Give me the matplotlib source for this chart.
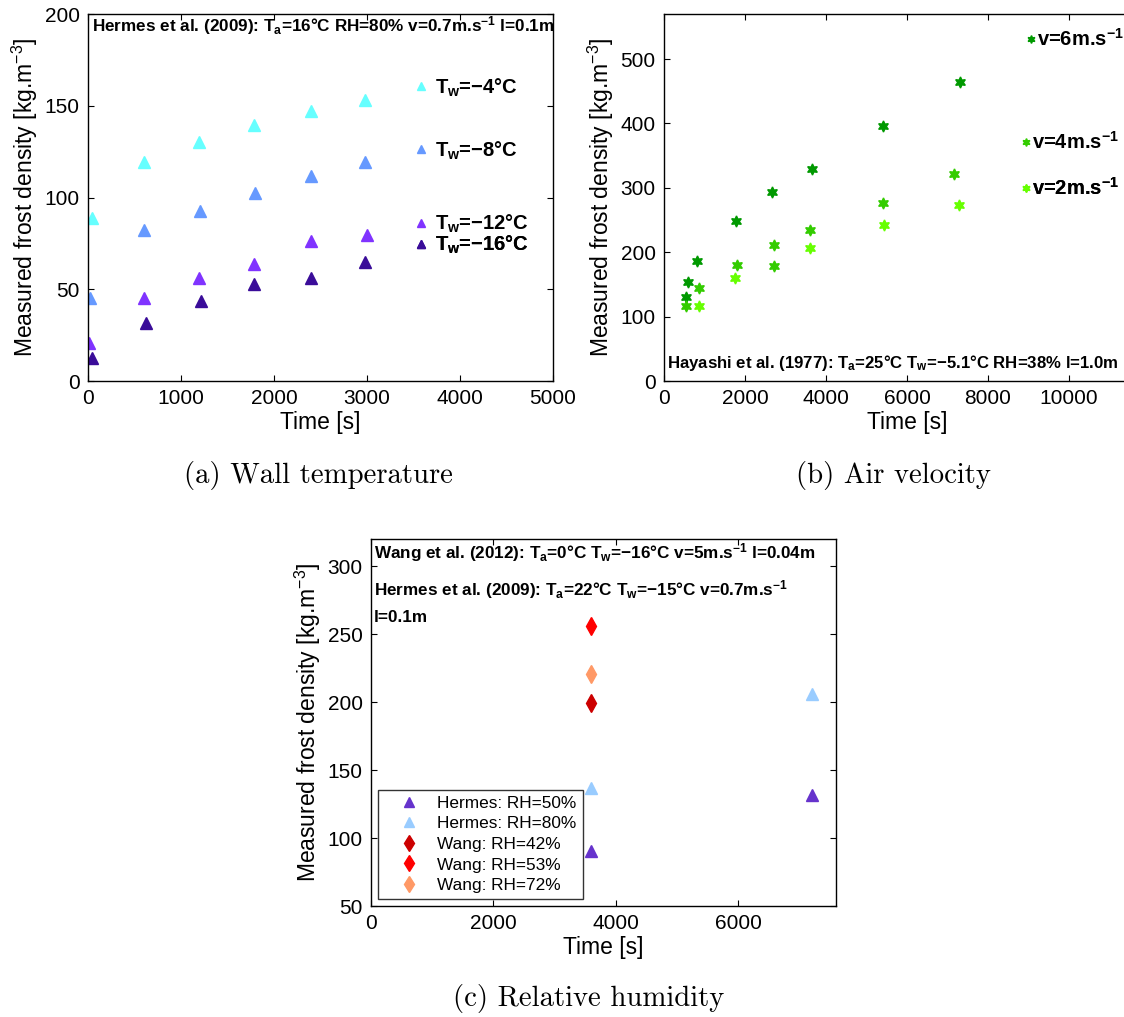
import matplotlib
matplotlib.use("Agg")
import matplotlib.pyplot as plt

plt.rcParams['font.family'] = ['Liberation Sans', 'DejaVu Sans']
plt.rcParams['mathtext.fontset'] = 'custom'
plt.rcParams['mathtext.rm'] = 'Liberation Sans'
plt.rcParams['mathtext.bf'] = 'Liberation Sans:bold'
plt.rcParams['mathtext.it'] = 'Liberation Sans:italic'
plt.rcParams['mathtext.default'] = 'regular'

# (a) wall temperature, Hermes et al. (2009)
tw4_t = [38, 607, 1198, 1782, 2393, 2981]
tw4 = [88.7, 119.6, 130.2, 139.3, 147.1, 153.3]
tw8_t = [23, 600, 1200, 1798, 2393, 2981]
tw8 = [45.5, 82.4, 92.9, 102.4, 111.5, 119.3]
tw12_t = [15, 607, 1198, 1782, 2393, 2996]
tw12 = [20.5, 45.5, 56.0, 63.8, 76.2, 79.3]
tw16_t = [38, 626, 1218, 1782, 2393, 2981]
tw16 = [12.7, 31.5, 43.6, 52.9, 56.0, 65.1]
labels_a = [r"T$_\mathbf{w}$=−4°C", r"T$_\mathbf{w}$=−8°C",
            r"T$_\mathbf{w}$=−12°C", r"T$_\mathbf{w}$=−16°C"]

# (b) air velocity, Hayashi et al. (1977)
v6_t = [534, 595, 819, 1767, 2664, 3664, 5414, 7319]
v6 = [131, 154, 186, 248, 293, 329, 396, 465]
v4_t = [534, 853, 1810, 2707, 2707, 3595, 5397, 7172]
v4 = [117, 144, 180, 212, 179, 235, 276, 322]
v2_t = [853, 1750, 3595, 5440, 7293]
v2 = [117, 160, 207, 242, 274]
labels_b = [r"v=6m.s$^\mathbf{-1}$", r"v=4m.s$^\mathbf{-1}$", r"v=2m.s$^\mathbf{-1}$"]

# (c) relative humidity
h50_t = [3600, 7200]
h50 = [90.4, 131.6]
h80_t = [3600, 7200]
h80 = [136.5, 205.6]
w42_t = [3600]
w42 = [199.5]
w53_t = [3600]
w53 = [256.0]
w72_t = [3600]
w72 = [220.5]
labels_c = ["Hermes: RH=50%", "Hermes: RH=80%", "Wang: RH=42%", "Wang: RH=53%", "Wang: RH=72%"]

W, H = 1124, 1017
fig = plt.figure(figsize=(W / 100, H / 100), dpi=100)


def make_ax(l, t, r, b):
    ax = fig.add_axes([l / W, 1 - b / H, (r - l) / W, (b - t) / H])
    ax.tick_params(direction='in', top=True, right=True, length=4, width=0.8,
                   labelsize=15, pad=6)
    for s in ax.spines.values():
        s.set_linewidth(1.0)
    ax.set_xlabel('Time [s]', fontsize=16.5, labelpad=2)
    ax.set_ylabel(r'Measured frost density [kg.m$^{-3}$]', fontsize=16.5, labelpad=3)
    return ax


def put_legend(ax, h, lab, x, y, size, scale, hl, pad):
    leg = ax.legend([h], [lab], loc='center left', bbox_to_anchor=(x, y),
                    frameon=False, borderpad=0, borderaxespad=0, handlelength=hl,
                    handletextpad=pad, markerscale=scale,
                    prop={'weight': 'bold', 'size': size})
    ax.add_artist(leg)


# ---- (a)
ax = make_ax(88, 14, 553, 381)
cols_a = ['#66ffff', '#6699ff', '#8033ff', '#3a0c99']
hs = []
for t, v, c in zip([tw4_t, tw8_t, tw12_t, tw16_t], [tw4, tw8, tw12, tw16], cols_a):
    h, = ax.plot(t, v, '^', color=c, ms=8.5, mec=c, ls='none')
    hs.append(h)
ax.set_xlim(0, 5000)
ax.set_ylim(0, 200)
ax.set_xticks(range(0, 5001, 1000))
ax.set_yticks(range(0, 201, 50))
for h, lab, y in zip(hs, labels_a, [0.80, 0.628, 0.428, 0.371]):
    put_legend(ax, h, lab, 0.699, y, 14.5, 0.75, 0.8, 0.3)
ax.text(0.009, 0.952, r"Hermes et al. (2009): T$_\mathbf{a}$=16°C RH=80% v=0.7m.s$^\mathbf{-1}$ l=0.1m",
        transform=ax.transAxes, fontsize=12.3, fontweight='bold', va='baseline')

# ---- (b)  (axes runs past the right edge of the figure, as in the original)
ax = make_ax(664, 14, 1150, 381)
star = (6, 1, 0)
cols_b = ['#009900', '#33cc00', '#66ff00']
hs = []
for t, v, c in zip([v6_t, v4_t, v2_t], [v6, v4, v2], cols_b):
    h, = ax.plot(t, v, marker=star, color=c, ms=8, mec=c, ls='none')
    hs.append(h)
ax.set_xlim(0, 12000)
ax.set_ylim(0, 570)
ax.set_xticks(range(0, 10001, 2000))
ax.set_yticks(range(0, 501, 100))
for h, lab, x, y in zip(hs, labels_b, [0.742, 0.733, 0.733], [0.931, 0.652, 0.525]):
    put_legend(ax, h, lab, x, y, 14.5, 0.7, 0.6, 0.0)
ax.text(0.006, 0.036, r"Hayashi et al. (1977): T$_\mathbf{a}$=25°C T$_\mathbf{w}$=−5.1°C RH=38% l=1.0m",
        transform=ax.transAxes, fontsize=12.1, fontweight='bold', va='baseline')

# ---- (c)
ax = make_ax(371, 539, 836, 906)
ax.plot(h50_t, h50, '^', color='#6633cc', ms=8.5, ls='none', label=labels_c[0])
ax.plot(h80_t, h80, '^', color='#99ccff', ms=8.5, ls='none', label=labels_c[1])
ax.plot(w42_t, w42, 'd', color='#cc0000', ms=9, ls='none', label=labels_c[2])
ax.plot(w53_t, w53, 'd', color='#ff0000', ms=9, ls='none', label=labels_c[3])
ax.plot(w72_t, w72, 'd', color='#ff9966', ms=9, ls='none', label=labels_c[4])
ax.set_xlim(0, 7600)
ax.set_ylim(50, 320)
ax.set_xticks(range(0, 7000, 2000))
ax.set_yticks(range(50, 301, 50))
leg = ax.legend(loc='lower left', fontsize=12.4, frameon=True, fancybox=False,
                edgecolor='black', borderpad=0.35, handlelength=2.9, handletextpad=0.2,
                labelspacing=0.32, borderaxespad=0.4, markerscale=0.85)
leg.get_frame().set_linewidth(1.0)
ax.text(0.006, 0.948, r"Wang et al. (2012): T$_\mathbf{a}$=0°C T$_\mathbf{w}$=−16°C v=5m.s$^\mathbf{-1}$ l=0.04m",
        transform=ax.transAxes, fontsize=12.3, fontweight='bold', va='baseline')
ax.text(0.006, 0.847, r"Hermes et al. (2009): T$_\mathbf{a}$=22°C T$_\mathbf{w}$=−15°C v=0.7m.s$^\mathbf{-1}$",
        transform=ax.transAxes, fontsize=12.3, fontweight='bold', va='baseline')
ax.text(0.006, 0.775, "l=0.1m", transform=ax.transAxes, fontsize=12.3,
        fontweight='bold', va='baseline')

# captions
for x, y, s in [(318, 475, "(a) Wall temperature"), (893, 475, "(b) Air velocity"),
                (589, 998, "(c) Relative humidity")]:
    fig.text(x / W, 1 - y / H, s, ha='center', va='center', family='cmr10', fontsize=20.7)

fig.savefig('out.png', dpi=100)
